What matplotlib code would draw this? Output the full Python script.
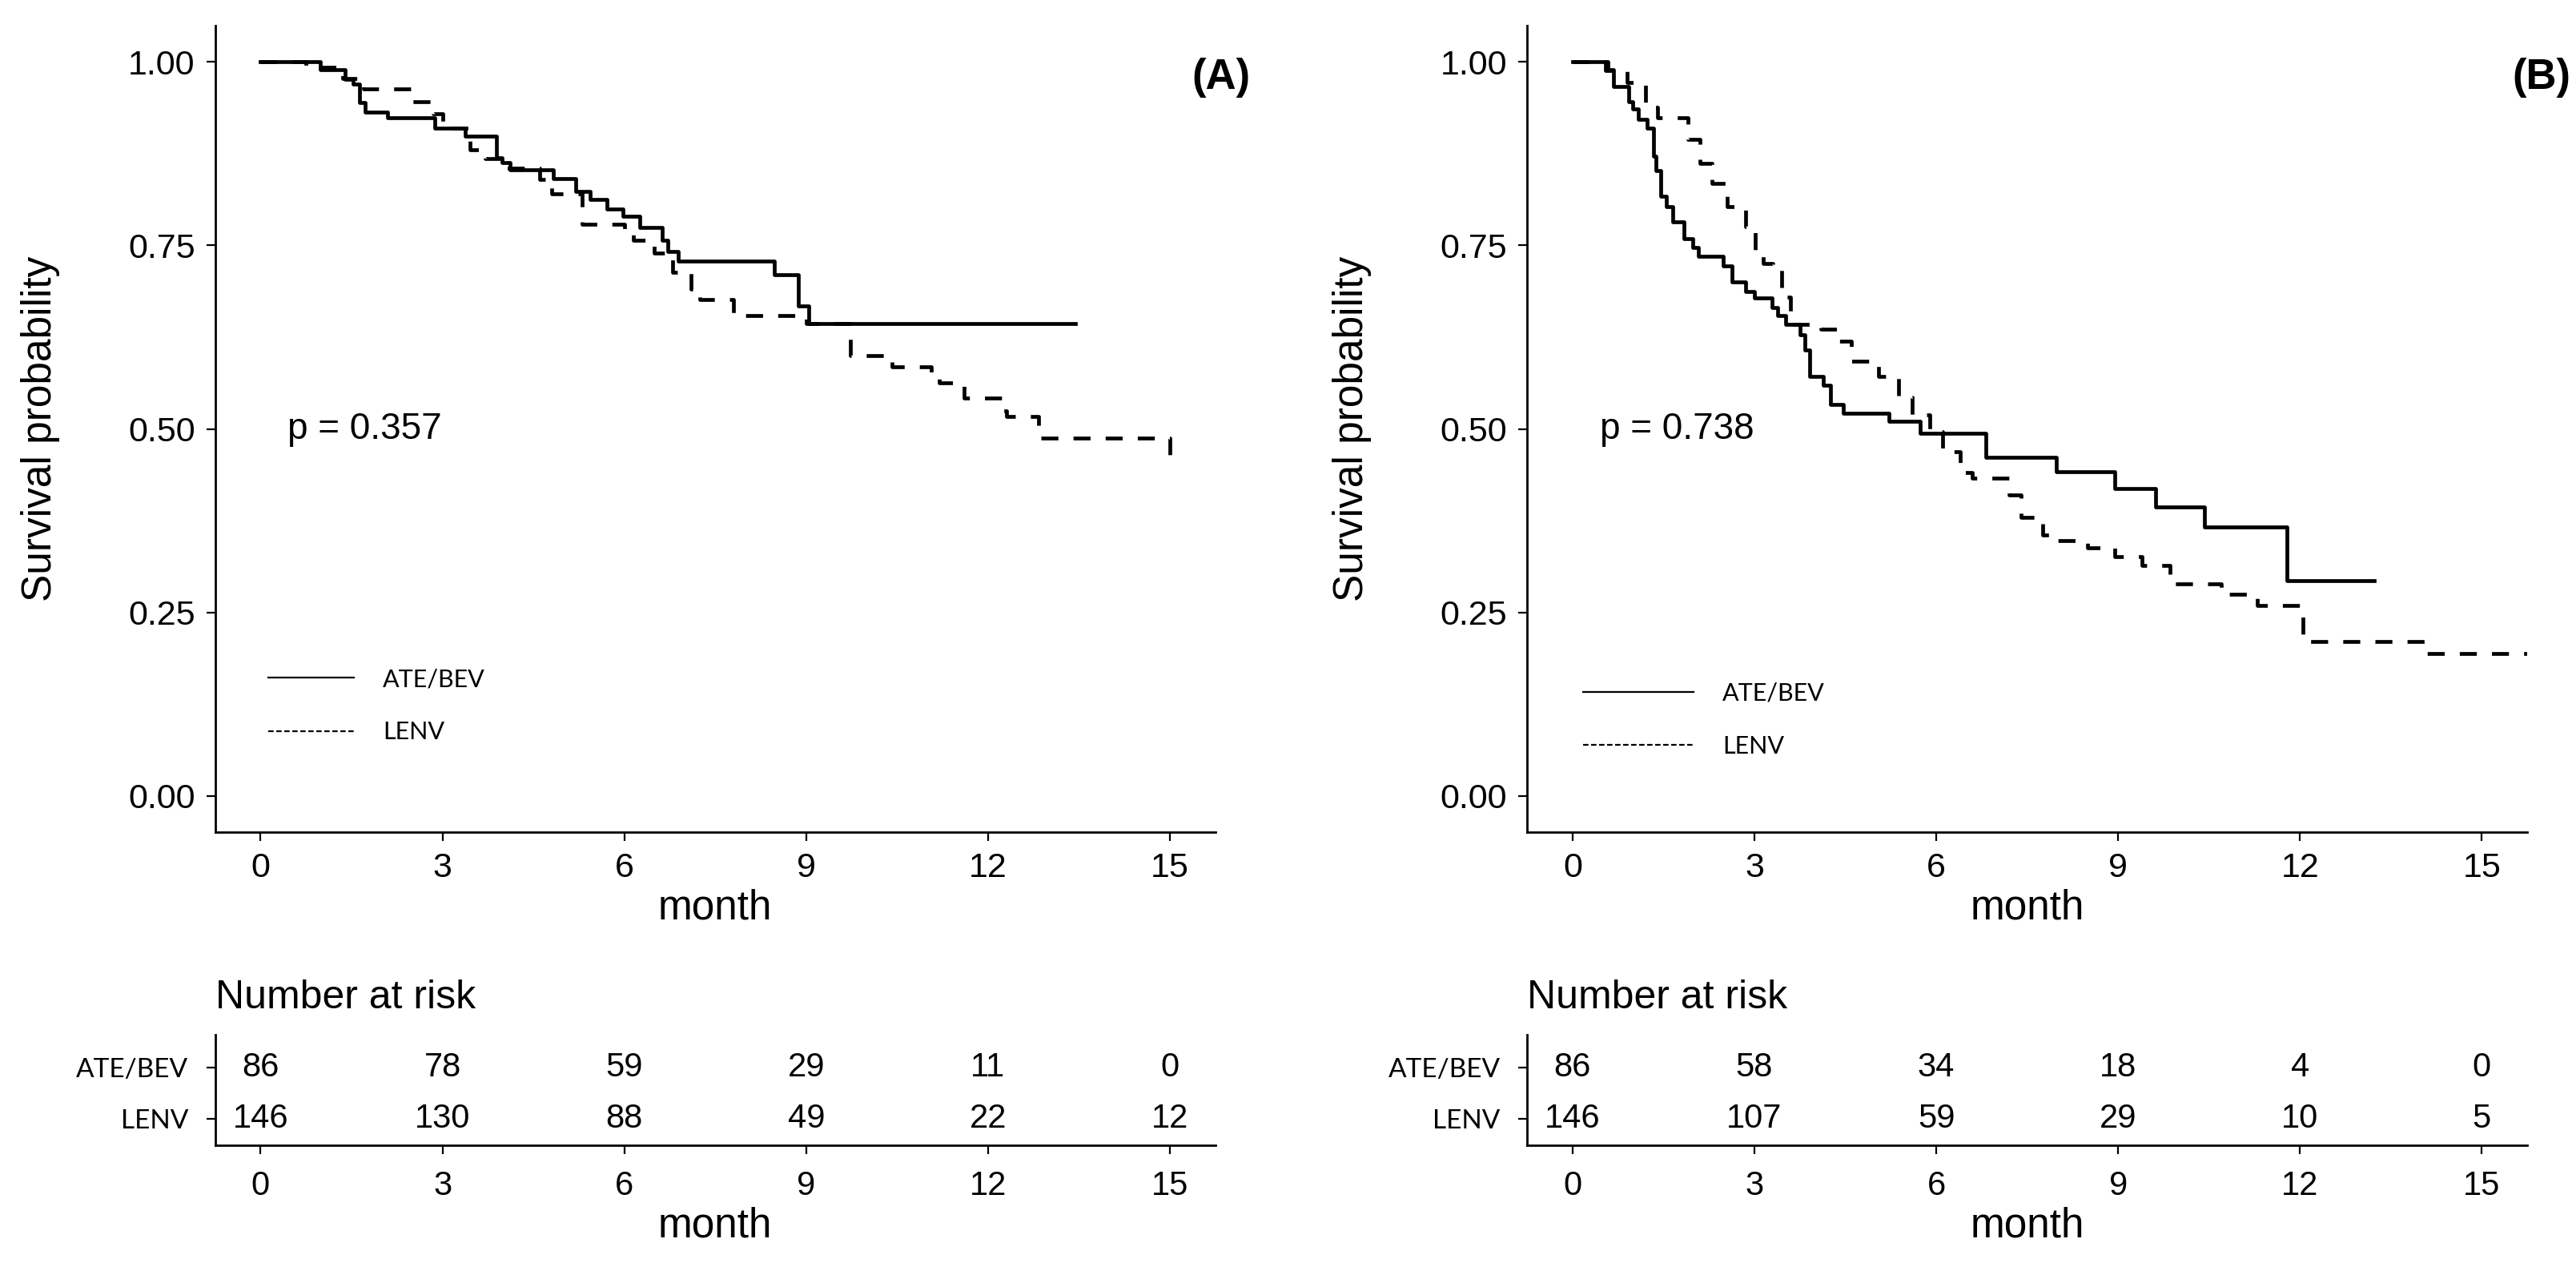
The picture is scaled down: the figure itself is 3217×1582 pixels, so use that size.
import matplotlib
matplotlib.use("Agg")
import matplotlib.pyplot as plt
from matplotlib.lines import Line2D

plt.rcParams['font.family'] = ['Liberation Sans', 'DejaVu Sans']

# ---- data ----
groups = ["ATE/BEV", "LENV"]
risk_times = [0, 3, 6, 9, 12, 15]

# panel A
a_ate_t = [0, 0.99, 1.39, 1.53, 1.63, 1.73, 2.10, 2.88, 3.38, 3.89, 3.99, 4.12, 4.83, 5.20, 5.44,
           5.71, 5.98, 6.25, 6.62, 6.72, 6.89, 8.47, 8.87, 9.04, 13.44]
a_ate_s = [1.0, 0.99, 0.977, 0.970, 0.945, 0.932, 0.924, 0.910, 0.899, 0.870, 0.863, 0.853, 0.841, 0.824, 0.813,
           0.800, 0.790, 0.774, 0.757, 0.742, 0.729, 0.710, 0.668, 0.644, 0.644]
a_lenv_t = [0, 0.75, 1.35, 1.70, 2.50, 2.85, 3.00, 3.45, 3.70, 4.00, 4.60, 4.80, 5.30, 6.00, 6.15,
            6.50, 6.80, 7.10, 7.25, 7.80, 9.00, 9.73, 10.42, 11.07, 11.20, 11.60, 12.22, 12.30, 12.84, 15.00]
a_lenv_s = [1.0, 0.993, 0.978, 0.963, 0.946, 0.930, 0.910, 0.880, 0.868, 0.855, 0.840, 0.820, 0.779, 0.765, 0.757,
            0.740, 0.713, 0.690, 0.676, 0.655, 0.644, 0.600, 0.585, 0.577, 0.563, 0.542, 0.525, 0.517, 0.488, 0.461]
a_risk_ate = [86, 78, 59, 29, 11, 0]
a_risk_lenv = [146, 130, 88, 49, 22, 12]

# panel B
b_ate_t = [0, 0.58, 0.68, 0.93, 0.99, 1.08, 1.23, 1.33, 1.37, 1.46, 1.55, 1.65, 1.84, 1.99, 2.08, 2.49,
           2.63, 2.86, 3.00, 3.29, 3.38, 3.51, 3.75, 3.83, 3.91, 4.14, 4.26, 4.47, 5.22, 5.73, 6.82,
           7.98, 8.94, 9.62, 10.43, 11.79, 13.22]
b_ate_s = [1.0, 0.99, 0.967, 0.946, 0.936, 0.922, 0.910, 0.872, 0.852, 0.817, 0.803, 0.782, 0.759, 0.747, 0.735, 0.722,
           0.700, 0.687, 0.679, 0.665, 0.654, 0.642, 0.628, 0.607, 0.572, 0.560, 0.533, 0.521, 0.510, 0.494, 0.461,
           0.442, 0.419, 0.394, 0.366, 0.293, 0.293]
b_lenv_t = [0, 0.55, 0.90, 1.20, 1.40, 1.90, 2.10, 2.30, 2.55, 2.85, 3.02, 3.15, 3.30, 3.45, 3.60, 4.10,
            4.40, 4.60, 5.05, 5.38, 5.60, 5.90, 6.10, 6.40, 6.60, 7.20, 7.40, 7.75, 8.00, 8.50, 8.95,
            9.40, 9.85, 10.70, 11.30, 12.05, 14.10, 15.90]
b_lenv_s = [1.0, 0.988, 0.972, 0.938, 0.924, 0.895, 0.862, 0.835, 0.803, 0.776, 0.741, 0.725, 0.718, 0.680, 0.642, 0.636,
            0.620, 0.592, 0.572, 0.543, 0.519, 0.496, 0.469, 0.440, 0.433, 0.410, 0.379, 0.355, 0.348, 0.338, 0.326,
            0.314, 0.289, 0.275, 0.259, 0.210, 0.194, 0.194]
b_risk_ate = [86, 58, 34, 18, 4, 0]
b_risk_lenv = [146, 107, 59, 29, 10, 5]

p_values = ["p = 0.357", "p = 0.738"]
panel_tags = ["(A)", "(B)"]

DASH = (0, (4.5, 4))
AX_W = 0.3883


def style_axis(ax):
    for side in ("top", "right"):
        ax.spines[side].set_visible(False)
    for side in ("left", "bottom"):
        ax.spines[side].set_linewidth(1.0)
    ax.tick_params(length=4, width=0.8, color="black")
    ax.set_xlim(-0.75, 15.75)
    ax.set_xticks(risk_times)


def draw_panel(left, ate_t, ate_s, lenv_t, lenv_s, risk_ate, risk_lenv, pval, leg_anchor, leg_len):
    ax = fig.add_axes([left, 0.343, AX_W, 0.637])
    style_axis(ax)
    ax.step(ate_t, ate_s, where="post", color="black", lw=1.7)
    ax.step(lenv_t, lenv_s, where="post", color="black", lw=1.7, linestyle=DASH)
    ax.set_ylim(-0.05, 1.05)
    ax.set_yticks([0, 0.25, 0.5, 0.75, 1.0])
    ax.set_yticklabels(["0.00", "0.25", "0.50", "0.75", "1.00"])
    ax.tick_params(labelsize=15.5, pad=5)
    ax.set_xlabel("month", fontsize=18.5, labelpad=2)
    ax.set_ylabel("Survival probability", fontsize=18.5)
    ax.yaxis.set_label_coords(-0.155, 0.5)
    ax.text(0.45, 0.5, pval, fontsize=16.5, ha="left", va="center")

    handles = [Line2D([], [], color="black", lw=0.8),
               Line2D([], [], color="black", lw=0.8, linestyle=(0, (3, 1.5)))]
    ax.legend(handles, groups, loc="center left", bbox_to_anchor=leg_anchor,
              bbox_transform=fig.transFigure, frameon=False, borderaxespad=0, borderpad=0,
              handlelength=leg_len, handletextpad=1.2, labelspacing=1.25,
              prop={"family": ["Lato", "DejaVu Sans"], "size": 11})

    rk = fig.add_axes([left, 0.096, AX_W, 0.0873])
    style_axis(rk)
    rk.set_ylim(0.48, 2.65)
    rk.set_yticks([2, 1])
    rk.set_yticklabels(groups, fontsize=12, family=["Lato", "DejaVu Sans"])
    rk.tick_params(axis="y", pad=8)
    rk.tick_params(axis="x", labelsize=15, pad=7)
    for t, n1, n2 in zip(risk_times, risk_ate, risk_lenv):
        rk.text(t, 2, str(n1), ha="center", va="center", fontsize=15)
        rk.text(t, 1, str(n2), ha="center", va="center", fontsize=15)
    rk.set_xlabel("month", fontsize=18.5, labelpad=2)
    rk.set_title("Number at risk", loc="left", fontsize=18, pad=12)
    return ax


fig = plt.figure(figsize=(16.085, 7.91), dpi=200)

draw_panel(0.0835, a_ate_t, a_ate_s, a_lenv_t, a_lenv_s, a_risk_ate, a_risk_lenv,
           p_values[0], (0.104, 0.443), 3.5)
draw_panel(0.5928, b_ate_t, b_ate_s, b_lenv_t, b_lenv_s, b_risk_ate, b_risk_lenv,
           p_values[1], (0.6146, 0.432), 4.5)

fig.text(0.474, 0.939, panel_tags[0], fontsize=19, fontweight="bold", ha="center", va="center")
fig.text(0.998, 0.939, panel_tags[1], fontsize=19, fontweight="bold", ha="right", va="center")

fig.savefig("out.png", dpi=200)
